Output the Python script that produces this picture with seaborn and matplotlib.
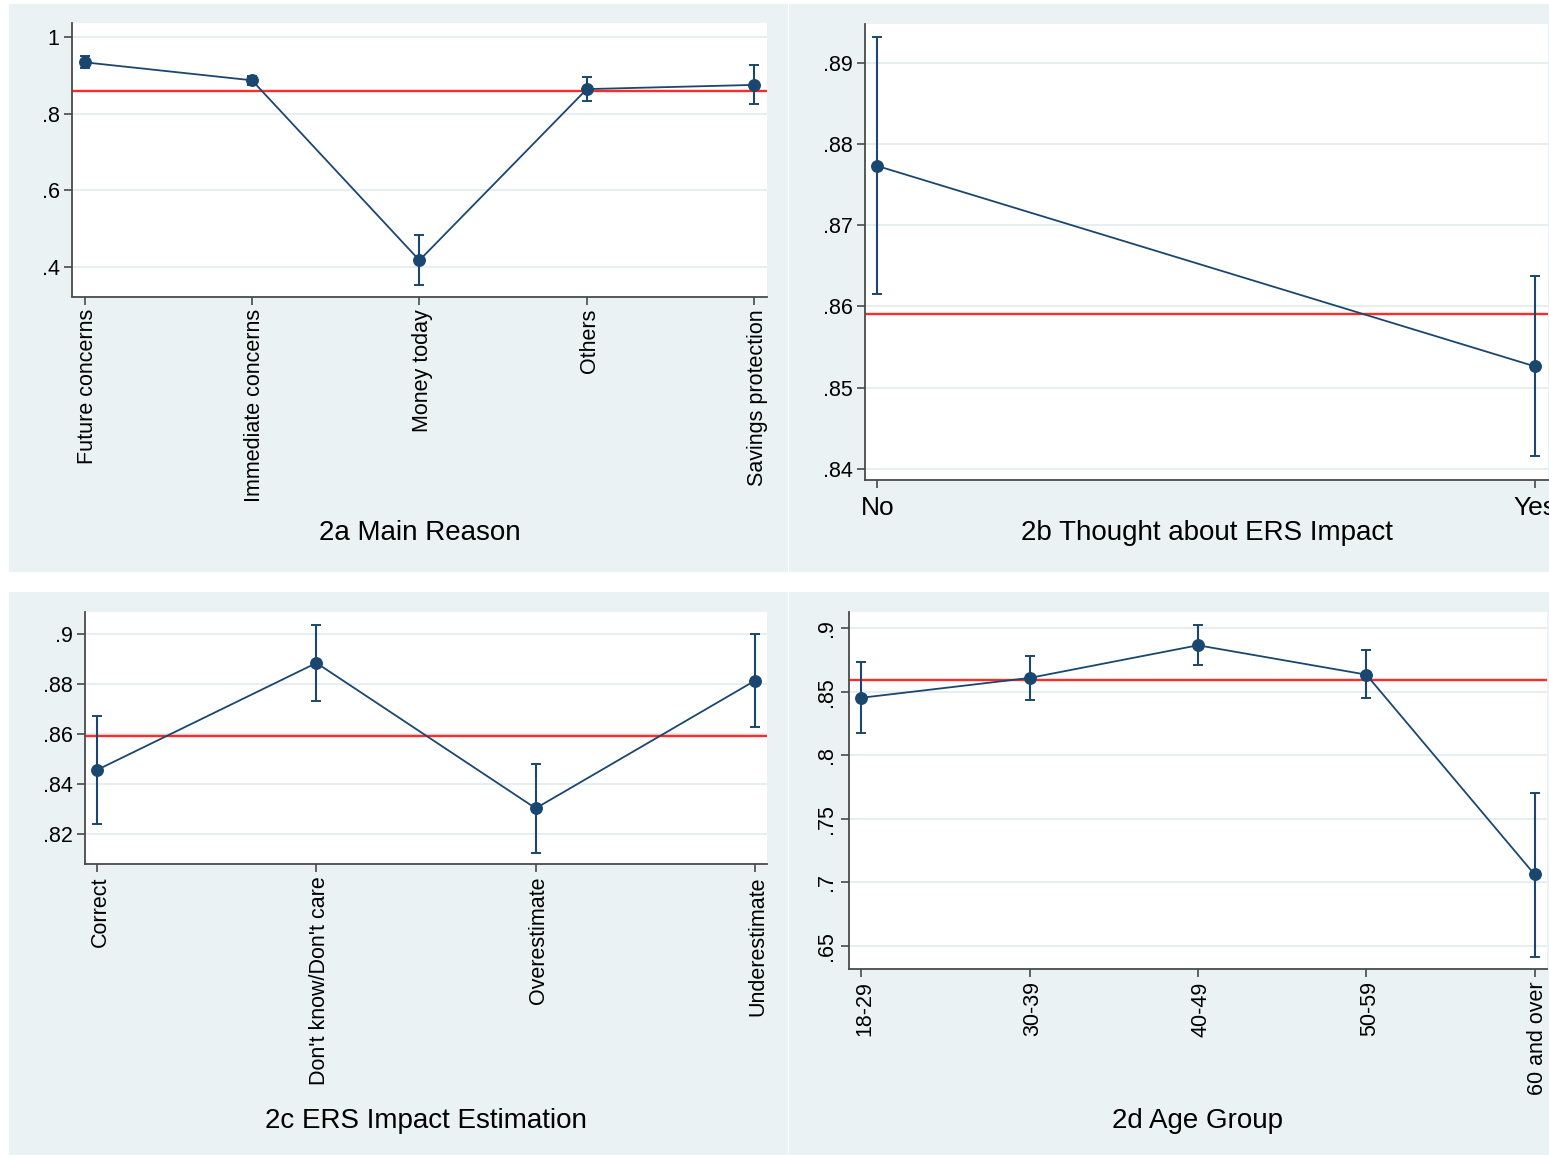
import matplotlib
matplotlib.use("Agg")
import matplotlib.pyplot as plt
from matplotlib.patches import Rectangle
from matplotlib.transforms import ScaledTranslation
import seaborn as sns
import numpy as np

sns.set_theme(style="white")
plt.rcParams['font.family'] = ['Liberation Sans', 'DejaVu Sans']

# ---- data ---------------------------------------------------------------
overall_mean = 0.859

reason_cats = ["Future concerns", "Immediate concerns", "Money today", "Others",
               "Savings protection"]
reason_mean = [0.934, 0.887, 0.417, 0.864, 0.875]
reason_lo = [0.918, 0.876, 0.352, 0.833, 0.824]
reason_hi = [0.950, 0.898, 0.484, 0.896, 0.926]
reason_ticks = [0.4, 0.6, 0.8, 1.0]
reason_ticklabels = [".4", ".6", ".8", "1"]

thought_cats = ["No", "Yes"]
thought_mean = [0.8773, 0.8526]
thought_lo = [0.8615, 0.8415]
thought_hi = [0.8932, 0.8637]
thought_ticks = [0.84, 0.85, 0.86, 0.87, 0.88, 0.89]
thought_ticklabels = [".84", ".85", ".86", ".87", ".88", ".89"]

estim_cats = ["Correct", "Don't know/Don't care", "Overestimate", "Underestimate"]
estim_mean = [0.8456, 0.8884, 0.8302, 0.8813]
estim_lo = [0.8238, 0.8731, 0.8125, 0.8629]
estim_hi = [0.8673, 0.9037, 0.8478, 0.9000]
estim_ticks = [0.82, 0.84, 0.86, 0.88, 0.90]
estim_ticklabels = [".82", ".84", ".86", ".88", ".9"]

age_cats = ["18-29", "30-39", "40-49", "50-59", "60 and over"]
age_mean = [0.8454, 0.8610, 0.8867, 0.8636, 0.7063]
age_lo = [0.8177, 0.8439, 0.8709, 0.8451, 0.6416]
age_hi = [0.8734, 0.8780, 0.9029, 0.8826, 0.7708]
age_ticks = [0.65, 0.70, 0.75, 0.80, 0.85, 0.90]
age_ticklabels = [".65", ".7", ".75", ".8", ".85", ".9"]

# ---- styling --------------------------------------------------------------
W, H = 1549, 1155
NAVY = "#1A476F"
RED = "#FF2B2B"
PANEL_BG = "#EAF2F3"
GRID = "#E4EDEF"
AXIS = "#4A4A4A"

fig = plt.figure(figsize=(W / 100, H / 100), dpi=100)


def px_rect(l, t, r, b):
    return [l / W, 1 - b / H, (r - l) / W, (b - t) / H]


# light panel backgrounds behind each sub-graph
for (l, t, r, b) in [(9, 4, 788, 572), (789, 4, 1552, 572),
                     (9, 592, 788, 1158), (789, 592, 1552, 1158)]:
    fig.patches.append(Rectangle((l / W, 1 - b / H), (r - l) / W, (b - t) / H,
                                 transform=fig.transFigure, facecolor=PANEL_BG,
                                 edgecolor="none", zorder=-10))


def draw_panel(rect, cats, mean, lo, hi, ticks, ticklabels, ylim, xlim,
               title, title_y, xrot=90, xsize=15.5, xpad=3, yrot=0):
    ax = fig.add_axes(px_rect(*rect))
    ax.set_zorder(1)
    ax.set_facecolor("white")
    ax.set_axisbelow(True)
    x = np.arange(len(cats))
    mean = np.asarray(mean)
    ax.axhline(overall_mean, color=RED, lw=1.7, zorder=1.5)
    ax.errorbar(x, mean, yerr=[mean - np.asarray(lo), np.asarray(hi) - mean],
                fmt="none", ecolor=NAVY, elinewidth=1.5, capsize=3.4,
                capthick=1.4, zorder=2.5)
    sns.pointplot(x=cats, y=mean, order=cats, color=NAVY, errorbar=None,
                  markers="o", markersize=8.3, linewidth=1.3, ax=ax)
    for ln in ax.lines:
        if ln.get_marker() == "o":
            ln.set_zorder(3)
    ax.set_xlim(*xlim)
    ax.set_ylim(*ylim)
    ax.set_yticks(ticks)
    ax.set_yticklabels(ticklabels)
    ax.set_xlabel("")
    ax.set_ylabel("")
    ax.yaxis.grid(True, color=GRID, lw=1.3)
    ax.xaxis.grid(False)
    for side in ["top", "right"]:
        ax.spines[side].set_visible(False)
    for side in ["left", "bottom"]:
        ax.spines[side].set_color(AXIS)
        ax.spines[side].set_linewidth(1.3)
    ax.tick_params(axis="both", direction="out", length=6, width=1.2,
                   color=AXIS, labelcolor="black", left=True, bottom=True)
    ax.tick_params(axis="y", labelsize=15.5, pad=3)
    ax.tick_params(axis="x", labelsize=xsize, pad=xpad, labelrotation=xrot)
    if xrot:
        # centre the rotated glyphs (not their descent box) on the ticks
        shift = ScaledTranslation(3 / 100, 0, fig.dpi_scale_trans)
        for lab in ax.get_xticklabels():
            lab.set_transform(lab.get_transform() + shift)
    if yrot:
        for lab in ax.get_yticklabels():
            lab.set_rotation(yrot)
            lab.set_va("center")
            lab.set_ha("right")
    l, t, r, b = rect
    fig.text(((l + r) / 2) / W, 1 - title_y / H, title, ha="center",
             va="center", fontsize=20, color="black")
    return ax


draw_panel((72, 23, 767, 296.5), reason_cats, reason_mean, reason_lo, reason_hi,
           reason_ticks, reason_ticklabels, (0.3225, 1.0366), (-0.075, 4.076),
           "2a Main Reason", 533)

draw_panel((865, 24, 1548, 480), thought_cats, thought_mean, thought_lo,
           thought_hi, thought_ticks, thought_ticklabels, (0.8386, 0.8948),
           (-0.019, 1.0198), "2b Thought about ERS Impact", 533,
           xrot=0, xsize=19, xpad=5.5)

draw_panel((85, 612, 767, 864), estim_cats, estim_mean, estim_lo, estim_hi,
           estim_ticks, estim_ticklabels, (0.8079, 0.9088), (-0.0557, 3.055),
           "2c ERS Impact Estimation", 1121)

draw_panel((849, 612, 1547, 969), age_cats, age_mean, age_lo, age_hi,
           age_ticks, age_ticklabels, (0.6319, 0.9129), (-0.0737, 4.0737),
           "2d Age Group", 1121, yrot=90)

fig.savefig("out.png", dpi=100)
